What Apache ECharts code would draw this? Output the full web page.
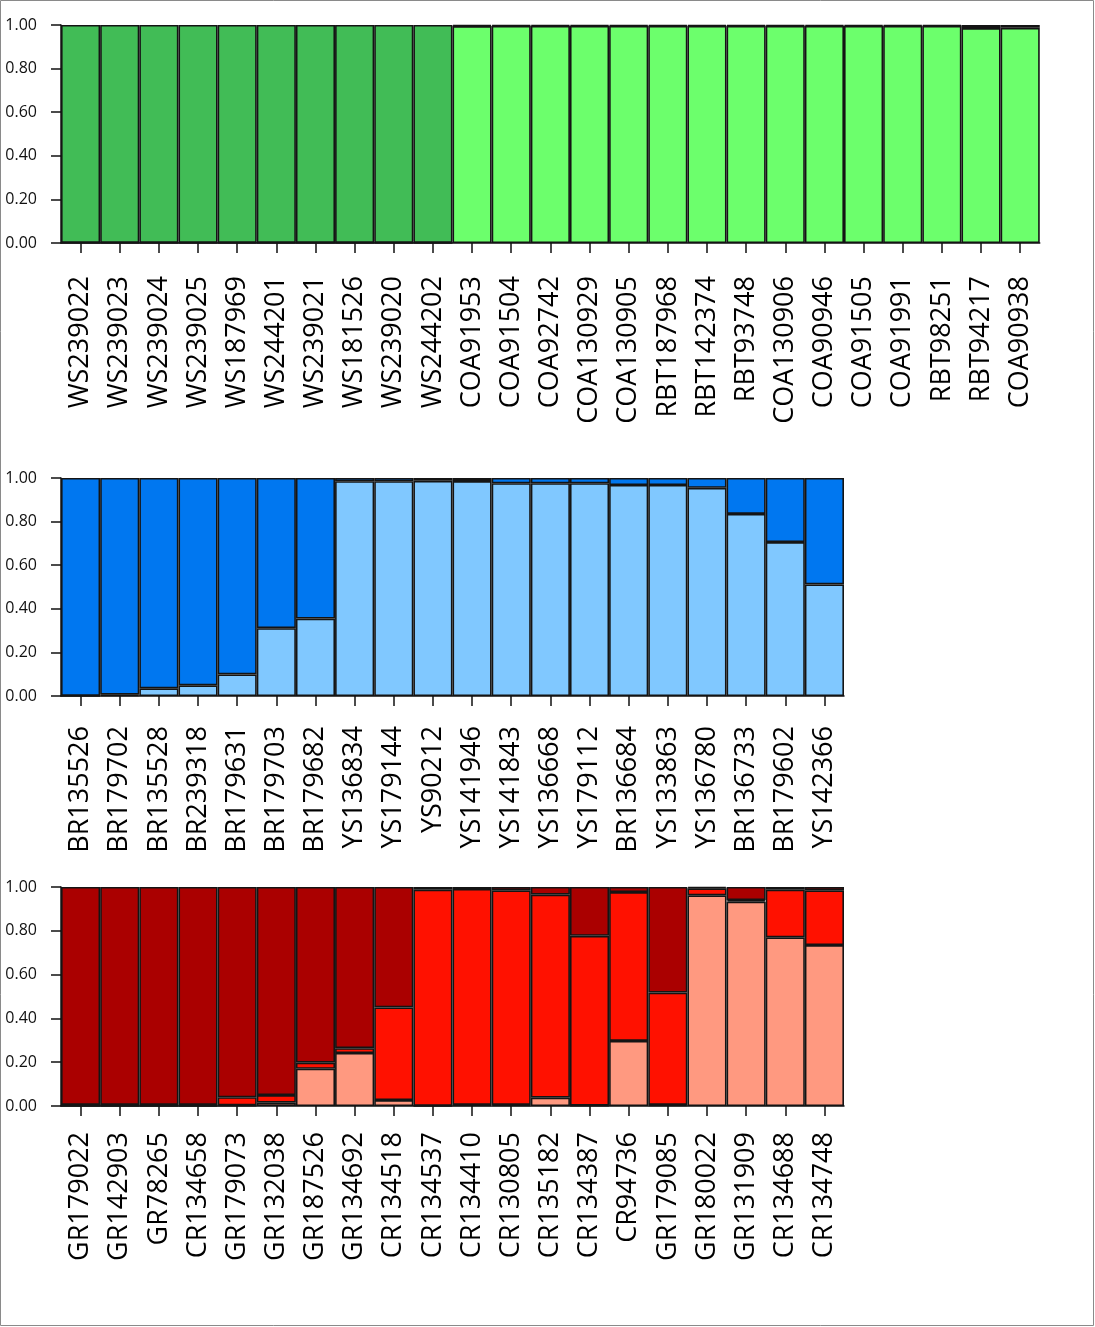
<!DOCTYPE html>
<html>
<head>
<meta charset="utf-8">
<script src="https://cdn.jsdelivr.net/npm/echarts@6/dist/echarts.min.js"></script>
<style>
html,body{margin:0;padding:0;background:#fff;}
#chart{width:1095px;height:1327px;}
</style>
</head>
<body>
<div id="chart"></div>
<script>
// ---------- DATA ----------
const yTicks = [0, 0.2, 0.4, 0.6, 0.8, 1.0];

const cats1 = ['WS239022','WS239023','WS239024','WS239025','WS187969','WS244201','WS239021','WS181526','WS239020','WS244202',
  'COA91953','COA91504','COA92742','COA130929','COA130905','RBT187968','RBT142374','RBT93748','COA130906','COA90946',
  'COA91505','COA91991','RBT98251','RBT94217','COA90938'];
const lightGreen1 = [0.001,0.001,0.001,0.001,0.001,0.001,0.001,0.001,0.001,0.001,
  0.995,0.996,0.996,0.996,0.996,0.996,0.996,0.996,0.996,0.996,0.996,0.996,0.996,0.986,0.987];
const darkGreen1 = [0.999,0.999,0.999,0.999,0.999,0.999,0.999,0.999,0.999,0.999,
  0.005,0.004,0.004,0.004,0.004,0.004,0.004,0.004,0.004,0.004,0.004,0.004,0.004,0.014,0.013];

const cats2 = ['BR135526','BR179702','BR135528','BR239318','BR179631','BR179703','BR179682','YS136834','YS179144','YS90212',
  'YS141946','YS141843','YS136668','YS179112','BR136684','YS133863','YS136780','BR136733','BR179602','YS142366'];
const lightBlue2 = [0.001,0.006,0.035,0.049,0.099,0.311,0.355,0.985,0.985,0.987,
  0.986,0.976,0.976,0.976,0.968,0.968,0.955,0.835,0.706,0.512];
const darkBlue2 = [0.999,0.994,0.965,0.951,0.901,0.689,0.645,0.015,0.015,0.013,
  0.014,0.024,0.024,0.024,0.032,0.032,0.045,0.165,0.294,0.488];

const cats3 = ['GR179022','GR142903','GR78265','CR134658','GR179073','GR132038','GR187526','GR134692','CR134518','CR134537',
  'CR134410','CR130805','CR135182','CR134387','CR94736','GR179085','GR180022','GR131909','CR134688','CR134748'];
const salmon3 = [0.001,0.001,0.001,0.001,0.003,0.015,0.170,0.242,0.027,0.001,
  0.005,0.005,0.038,0.002,0.297,0.005,0.962,0.933,0.770,0.735];
const red3 = [0.004,0.004,0.004,0.004,0.037,0.035,0.028,0.022,0.423,0.987,
  0.986,0.980,0.927,0.775,0.680,0.513,0.032,0.007,0.218,0.250];
const darkRed3 = [0.995,0.995,0.995,0.995,0.960,0.950,0.802,0.736,0.550,0.012,
  0.009,0.015,0.035,0.223,0.023,0.482,0.006,0.060,0.012,0.015];

// ---------- CHART ----------
const chart = echarts.init(document.getElementById('chart'), null, {renderer:'canvas'});
const FONT = '"Open Sans", "Noto Sans", sans-serif';
const BW = 39.15;

const grids = [
  {left:61, top:25, width:BW*25, height:218},
  {left:61, top:478, width:BW*20, height:218},
  {left:61, top:887, width:BW*20, height:219}
];
const catsAll = [cats1, cats2, cats3];
const labelMargins = [33, 30, 26];

const xAxes = catsAll.map((c,i)=>({
  type:'category', gridIndex:i, data:c, boundaryGap:true,
  axisLine:{show:true, lineStyle:{color:'#111', width:1.5}},
  axisTick:{show:true, alignWithLabel:true, length:10, lineStyle:{color:'#111', width:1.5}},
  axisLabel:{rotate:90, interval:0, margin:labelMargins[i], fontFamily:FONT, fontSize:27, color:'#000'},
  splitLine:{show:false}
}));
const yAxes = catsAll.map((c,i)=>({
  type:'value', gridIndex:i, min:0, max:1, interval:0.2,
  axisLine:{show:true, lineStyle:{color:'#111', width:1.5}},
  axisTick:{show:true, length:10, lineStyle:{color:'#111', width:1.5}},
  axisLabel:{margin:24, fontFamily:FONT, fontSize:16, color:'#111', formatter:v=>v.toFixed(2)},
  splitLine:{show:false}
}));

function bar(name, data, color, idx){
  return {
    name, type:'bar', data, stack:'s'+idx, xAxisIndex:idx, yAxisIndex:idx,
    barWidth:'100%', barCategoryGap:'0%', silent:true,
    itemStyle:{color, borderColor:'#141414', borderWidth:1.6},
    animation:false
  };
}

const series = [
  bar('c1', lightGreen1, '#6cff6c', 0),
  bar('c2', darkGreen1, '#41bc56', 0),
  bar('b1', lightBlue2, '#80c8ff', 1),
  bar('b2', darkBlue2, '#0077f0', 1),
  bar('r1', salmon3, '#ff9980', 2),
  bar('r2', red3, '#ff1100', 2),
  bar('r3', darkRed3, '#aa0000', 2)
];

chart.setOption({
  animation:false,
  backgroundColor:'#fff',
  grid:grids,
  xAxis:xAxes,
  yAxis:yAxes,
  series,
  graphic:[{type:'rect', shape:{x:0.5, y:0.5, width:1093, height:1325}, style:{fill:'none', stroke:'#8a8a8a', lineWidth:1}, silent:true}]
});
</script>
</body>
</html>
